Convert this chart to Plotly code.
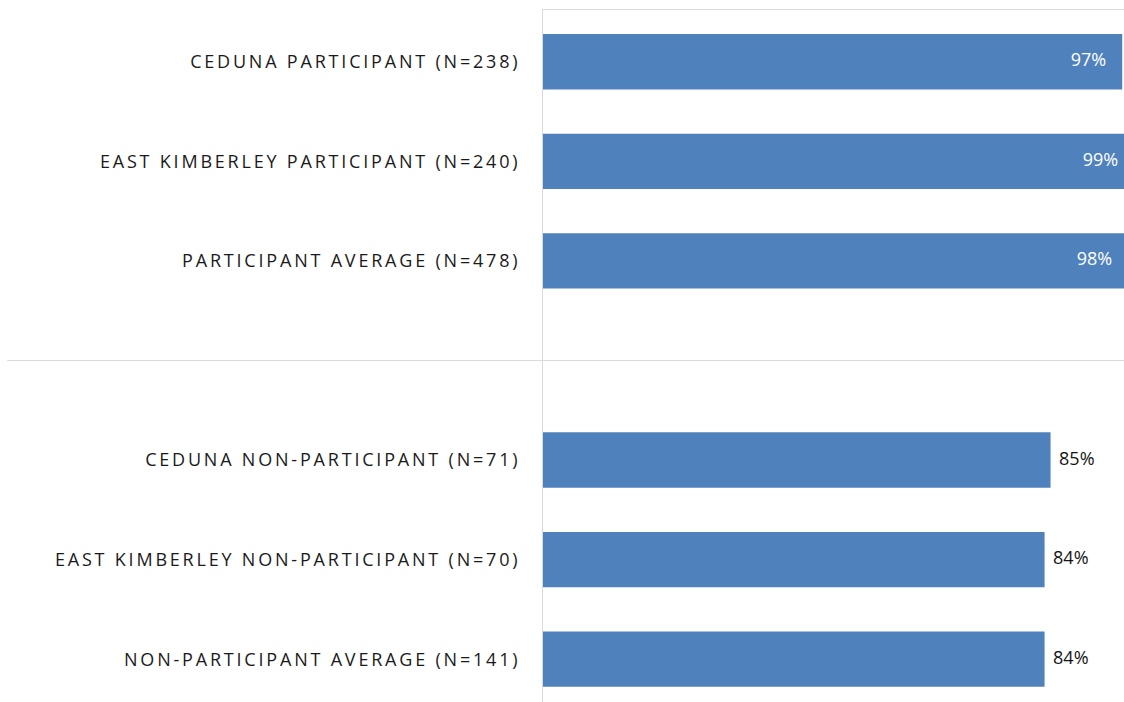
import plotly.graph_objects as go

# Survey groups (top to bottom) and share of respondents, in percent
participant_groups = [
    "CEDUNA PARTICIPANT (N=238)",
    "EAST KIMBERLEY PARTICIPANT (N=240)",
    "PARTICIPANT AVERAGE (N=478)",
]
participant_values = [97, 99, 98]

non_participant_groups = [
    "CEDUNA NON-PARTICIPANT (N=71)",
    "EAST KIMBERLEY NON-PARTICIPANT (N=70)",
    "NON-PARTICIPANT AVERAGE (N=141)",
]
non_participant_values = [85, 84, 84]

# empty slot that separates the two blocks of bars
spacer = " "
category_order = participant_groups + [spacer] + non_participant_groups

BAR_BLUE = "#4f81bd"
RULE_GREY = "#d9d9d9"
LABEL_FONT = "Open Sans"

fig = go.Figure()

fig.add_trace(go.Bar(
    x=participant_values + non_participant_values,
    y=participant_groups + non_participant_groups,
    orientation="h",
    width=0.556,
    marker=dict(color=BAR_BLUE, line=dict(width=0)),
    hoverinfo="skip",
    showlegend=False,
))

# value labels: inside the bar end for participants, just past it otherwise
# (clipped to the plot area like the bars, so long bars run off the right edge)
fig.add_trace(go.Scatter(
    x=participant_values,
    y=participant_groups,
    mode="markers+text",
    text=[f"{v}%" for v in participant_values],
    textposition="middle left",
    textfont=dict(family=LABEL_FONT, size=18, color="#ffffff"),
    marker=dict(size=24, opacity=0),
    cliponaxis=True,
    hoverinfo="skip",
    showlegend=False,
))
fig.add_trace(go.Scatter(
    x=non_participant_values,
    y=non_participant_groups,
    mode="markers+text",
    text=[f"{v}%" for v in non_participant_values],
    textposition="middle right",
    textfont=dict(family=LABEL_FONT, size=18, color="#141414"),
    marker=dict(size=12, opacity=0),
    cliponaxis=True,
    hoverinfo="skip",
    showlegend=False,
))

# divider between participant and non-participant blocks
fig.add_shape(
    type="line", xref="paper", yref="y",
    x0=-0.922, x1=1, y0=spacer, y1=spacer,
    line=dict(color=RULE_GREY, width=1),
    layer="below",
)

fig.update_layout(
    width=1124,
    height=702,
    margin=dict(l=543, r=0, t=10, b=0),
    paper_bgcolor="#ffffff",
    plot_bgcolor="#ffffff",
    font=dict(family=LABEL_FONT, size=18, color="#1a1a1a"),
    xaxis=dict(
        range=[0, 97.3],
        side="top",
        showline=True,
        linecolor=RULE_GREY,
        linewidth=1,
        showgrid=False,
        zeroline=False,
        showticklabels=False,
        ticks="",
        fixedrange=True,
    ),
    yaxis=dict(
        type="category",
        categoryorder="array",
        categoryarray=category_order,
        range=[6.43, -0.52],
        showline=True,
        linecolor=RULE_GREY,
        linewidth=1,
        showgrid=False,
        zeroline=False,
        ticks="",
        ticklabelstandoff=18,
        tickfont=dict(family=LABEL_FONT, size=18, color="#1a1a1a"),
        fixedrange=True,
    ),
)

# spaced-out capitals for the group labels
spacing_js = """
document.querySelectorAll('.ytick text').forEach(function (t) {
  t.style.letterSpacing = '2.8px';
});
"""

fig.write_html("out.html", config={"displayModeBar": False}, post_script=spacing_js)
